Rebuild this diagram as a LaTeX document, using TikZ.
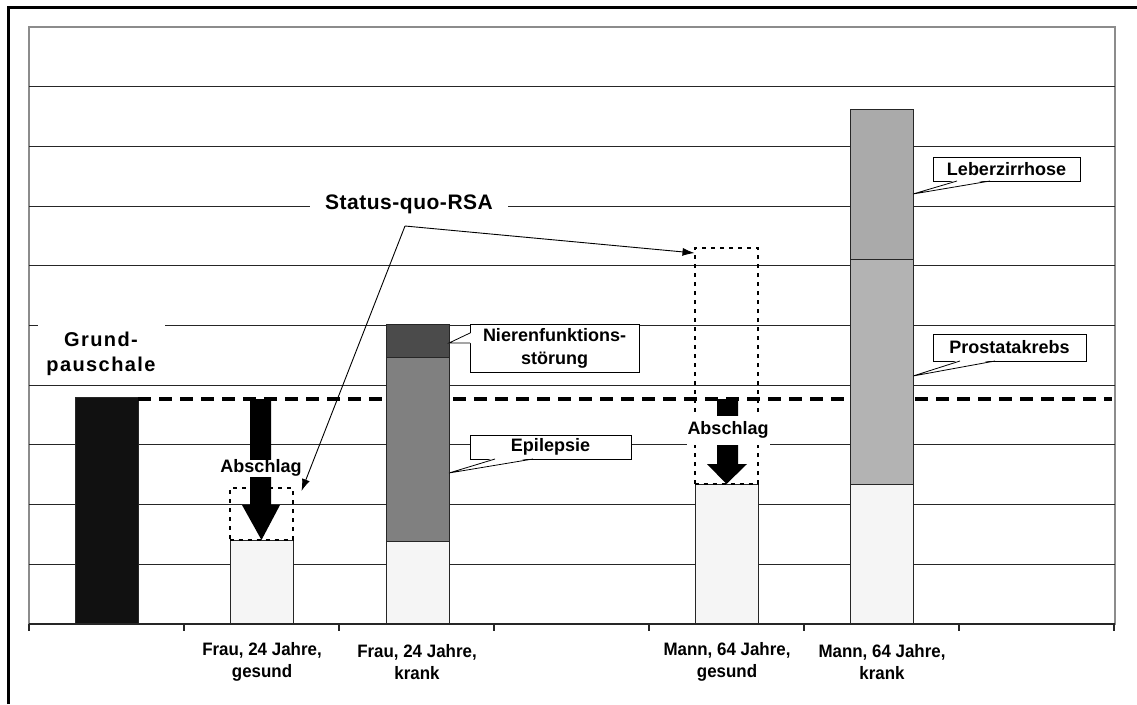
\documentclass[tikz,border=0pt]{standalone}
\usepackage{fontspec}
\setmainfont{Liberation Sans}
\newfontfamily\axisfont[FakeStretch=0.94]{Liberation Sans}
\usetikzlibrary{arrows.meta}
\definecolor{gridc}{HTML}{262626}
\definecolor{framec}{HTML}{8C8C8C}
\definecolor{barlight}{HTML}{F5F5F5}
\definecolor{barblack}{HTML}{111111}
\definecolor{epilc}{HTML}{808080}
\definecolor{nierec}{HTML}{4B4B4B}
\definecolor{prostc}{HTML}{B3B3B3}
\definecolor{leberc}{HTML}{AAAAAA}
\begin{document}
\begin{tikzpicture}[x=1pt,y=-1pt,
  bar/.style={draw=black!85, line width=0.8pt, inner sep=0pt, outer sep=0pt,
    minimum width=63pt, anchor=north west},
  dotbox/.style={draw=black, line width=2pt, dash pattern=on 4pt off 5pt,
    inner sep=0pt, outer sep=0pt, minimum width=63pt, anchor=north west},
  callout/.style={draw=black, fill=white, line width=0.8pt, inner sep=0pt,
    outer sep=0pt, align=center, font=\fontsize{18}{23}\selectfont\bfseries},
  wedge/.style={draw=black, line width=0.8pt},
  gridline/.style={draw=gridc, line width=1.1pt},
  pointer/.style={draw=black, line width=0.9pt, -{Latex[length=12pt,width=8pt]}},
  abschlag/.style={fill=white, inner xsep=1pt, inner ysep=0pt, text height=13pt,
    text depth=4pt, font=\fontsize{18}{22}\selectfont\bfseries},
  catlabel/.style={align=center, inner sep=0pt,
    font=\axisfont\fontsize{18}{22}\selectfont\bfseries},
  biglabel/.style={align=center, inner sep=0pt,
    font=\fontsize{20}{25}\selectfont\bfseries\addfontfeature{LetterSpace=7}},
]
\useasboundingbox (0,0) rectangle (1137,704);
\fill[white] (0,0) rectangle (1137,704);

% outer frame (only top and left edges fall inside the page)
\draw[line width=3pt, black] (8,704) -- (8,7) -- (1137,7);

% plot area
\draw[framec, line width=1.5pt] (29,27) rectangle (1115,624);

% horizontal grid
\foreach \k in {1,2,3,4,6,7,8,9}
  \draw[gridline] (29,{27+59.7*\k}) -- (1115,{27+59.7*\k});
\draw[gridline] (29,325.5) -- (38,325.5);
\draw[gridline] (165,325.5) -- (1115,325.5);

% bars
\node[bar, fill=barblack, minimum height=227pt] (grund) at (75,397) {};

% baseline level of the lump sum
\draw[line width=3.2pt, dash pattern=on 13pt off 8pt] (grund.east |- 0,399) -- (1112,399);

\node[bar, fill=barlight, minimum height=84pt]  (fgesund) at (230,540) {};
\node[bar, fill=barlight, minimum height=83pt]  (fkbase)  at (386,541) {};
\node[bar, fill=epilc,    minimum height=184pt] (fkepi)   at (386,357) {};
\node[bar, fill=nierec,   minimum height=33pt]  (fkniere) at (386,324) {};
\node[bar, fill=barlight, minimum height=140pt] (mgesund) at (695,484) {};
\node[bar, fill=barlight, minimum height=140pt] (mkbase)  at (850,484) {};
\node[bar, fill=prostc,   minimum height=225pt] (mkprost) at (850,259) {};
\node[bar, fill=leberc,   minimum height=150pt] (mkleber) at (850,109) {};

% status quo outlines
\node[dotbox, minimum height=52pt]  (dotF) at (229.5,488) {};
\node[dotbox, minimum height=236pt] (dotM) at (694.5,248) {};

% reduction arrows
\fill[black] (250,399) -- (271,399) -- (271,505) -- (280,505) -- (fgesund.north)
  -- (242,505) -- (250,505) -- cycle;
\node[abschlag] (absF) at (261,468) {Abschlag};
\fill[black] (717,399) -- (738,399) -- (738,464) -- (747,464) -- (mgesund.north)
  -- (707,464) -- (717,464) -- cycle;
\node[abschlag, minimum height=29pt] (absM) at (728,430) {Abschlag};

% status quo label and pointers
\node[fill=white, inner xsep=15pt, inner ysep=2pt,
  font=\fontsize{21}{25}\selectfont\bfseries\addfontfeature{LetterSpace=2.5}]
  (sq) at (409,204) {Status-quo-RSA};
\coordinate (sqfork) at (405,226);
\draw[pointer] (sqfork) -- ([yshift=-5pt]dotM.north west);
\draw[pointer] (sqfork) -- ([xshift=9pt,yshift=-3pt]dotF.north east);

% lump sum label
\node[biglabel] (grundlbl) at (101,354) {Grund-\\pauschale};

% callouts
\node[callout, minimum width=169pt, minimum height=48pt] (nieren) at (554.5,348)
  {Nierenfunktions-\\störung};
\coordinate (tipN) at (fkniere.east |- 0,343);
\fill[white] ([xshift=1.2pt,yshift=-9pt]nieren.north west) -- (tipN)
  -- ([xshift=1.2pt,yshift=-19pt]nieren.north west) -- cycle;
\draw[wedge] ([yshift=-9pt]nieren.north west) -- (tipN) -- ([yshift=-19pt]nieren.north west);

\node[callout, minimum width=161pt, minimum height=24pt] (epi) at (550.5,447) {Epilepsie};
\coordinate (tipE) at (fkepi.east |- 0,473);
\fill[white] ([xshift=25pt,yshift=1.2pt]epi.south west) -- (tipE)
  -- ([xshift=63pt,yshift=1.2pt]epi.south west) -- cycle;
\draw[wedge] ([xshift=25pt]epi.south west) -- (tipE) -- ([xshift=63pt]epi.south west);

\node[callout, minimum width=153pt, minimum height=27pt] (prost) at (1009.5,347.5) {Prostatakrebs};
\coordinate (tipP) at (mkprost.east |- 0,376);
\fill[white] ([xshift=27pt,yshift=1.2pt]prost.south west) -- (tipP)
  -- ([xshift=62pt,yshift=1.2pt]prost.south west) -- cycle;
\draw[wedge] ([xshift=27pt]prost.south west) -- (tipP) -- ([xshift=62pt]prost.south west);

\node[callout, minimum width=147pt, minimum height=24pt] (leber) at (1006.5,169) {Leberzirrhose};
\coordinate (tipL) at (mkleber.east |- 0,194);
\fill[white] ([xshift=24pt,yshift=1.2pt]leber.south west) -- (tipL)
  -- ([xshift=57pt,yshift=1.2pt]leber.south west) -- cycle;
\draw[wedge] ([xshift=24pt]leber.south west) -- (tipL) -- ([xshift=57pt]leber.south west);

% category axis
\draw[black!85, line width=1.5pt] (29,624) -- (1115,624);
\foreach \k in {0,...,7}
  \draw[black!85, line width=1.2pt] ({29+155*\k},624) -- ({29+155*\k},631);

\node[catlabel] (lblFg) at (262,662) {Frau, 24 Jahre,\\gesund};
\node[catlabel] (lblFk) at (417,662) {Frau, 24 Jahre,\\krank};
\node[catlabel] (lblMg) at (727,662) {Mann, 64 Jahre,\\gesund};
\node[catlabel] (lblMk) at (882,662) {Mann, 64 Jahre,\\krank};
\end{tikzpicture}
\end{document}
